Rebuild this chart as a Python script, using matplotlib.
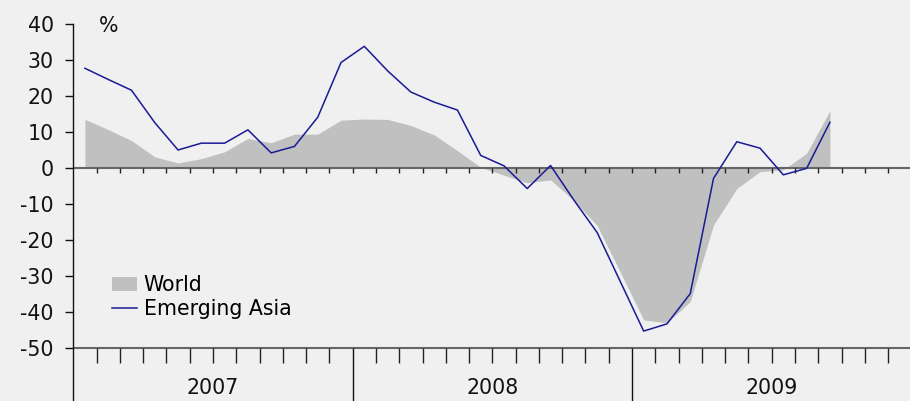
import matplotlib
matplotlib.use("Agg")
import matplotlib.pyplot as plt
import matplotlib.patches as patches
from matplotlib.lines import Line2D
import numpy as np

# monthly data, Jan 2007 .. Sep 2009 (% change)
world = [13.5, 10.7, 7.6, 3.1, 1.4, 2.6, 4.5, 8.2, 7.0, 9.4, 9.4, 13.3,
         13.6, 13.5, 11.8, 9.2, 4.8, 0.2, -2.0, -4.1, -3.3, -9.0, -16.0, -29.0,
         -42.2, -43.0, -37.1, -15.8, -5.7, -1.0, -0.5, 4.1, 15.9]
emerging_asia = [27.7, 24.6, 21.6, 12.6, 5.0, 6.9, 6.9, 10.6, 4.2, 6.0, 14.1, 29.3,
                 33.8, 27.0, 21.1, 18.3, 16.1, 3.5, 0.6, -5.7, 0.7, -8.9, -17.9, -31.6,
                 -45.3, -43.3, -34.9, -2.9, 7.3, 5.5, -1.9, -0.1, 12.7]
years = ["2007", "2008", "2009"]
y_ticks = [40, 30, 20, 10, 0, -10, -20, -30, -40, -50]

BG = "#f0f0f0"
GREY = "#c0c0c0"
NAVY = "#1a1a96"
FONT = "DejaVu Sans"
FS = 14.8

fig = plt.figure(figsize=(9.10, 4.01), dpi=100, facecolor=BG)
ax = fig.add_axes([73.3 / 910, 0.0, 1 - 73.3 / 910, (401 - 24) / 401])
ax.set_facecolor(BG)

x = np.arange(len(world)) + 0.5
ax.fill_between(x, world, 0, color=GREY, linewidth=0, zorder=1)
ax.plot(x, emerging_asia, color=NAVY, linewidth=1.1, zorder=3)

ax.set_xlim(0, 35.94)
ax.set_ylim(-64.72, 40)

# zero line and bottom line
ax.axhline(0, color="#666666", linewidth=1.5, zorder=2)
ax.axhline(-50, color="#666666", linewidth=1.5, zorder=2)

# month ticks
bounds = np.arange(1, 36)
small = [b for b in bounds if b % 12 != 0]
ax.vlines(bounds, -1.5, 0, color="#222222", linewidth=1.0, zorder=2)
ax.vlines(small, -54.3, -50, color="#222222", linewidth=1.0, zorder=2)
ax.vlines([12, 24], -64.72, -50, color="#111111", linewidth=1.0, zorder=2)

for i, yr in enumerate(years):
    ax.text(12 * i + 6, -61.1, yr, ha="center", va="center",
            fontsize=FS, family=FONT, color="#111111")

# y axis
for s in ["top", "right", "bottom"]:
    ax.spines[s].set_visible(False)
ax.spines["left"].set_color("#111111")
ax.spines["left"].set_linewidth(1.0)
ax.set_xticks([])
ax.set_yticks(y_ticks)
ax.set_yticklabels([str(v) for v in y_ticks], fontsize=FS, family=FONT)
ax.tick_params(axis="y", direction="out", length=6, width=1.0, pad=8,
               color="#111111", labelcolor="#111111")

ax.text(1.1, 39.5, "%", ha="left", va="center", fontsize=FS, family=FONT,
        color="#111111")

handles = [patches.Patch(facecolor=GREY, edgecolor="none", label="World"),
           Line2D([0], [0], color=NAVY, linewidth=1.1, label="Emerging Asia")]
leg = ax.legend(handles=handles, loc="upper left", bbox_to_anchor=(0.036, 0.355),
                frameon=False, prop={"family": FONT, "size": FS},
                handlelength=1.25, handleheight=0.65, handletextpad=0.3,
                labelspacing=0.2, borderaxespad=0)

fig.savefig("out.png", dpi=100, facecolor=BG)
